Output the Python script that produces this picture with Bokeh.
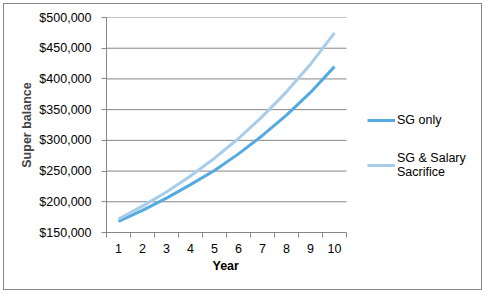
from bokeh.plotting import figure
from bokeh.models import FixedTicker, Legend, LegendItem, NumeralTickFormatter, Range1d, Title
from bokeh.embed import file_html
from bokeh.resources import INLINE

years = [1, 2, 3, 4, 5, 6, 7, 8, 9, 10]
sg_only = [168000, 186000, 206000, 228000, 251000, 278000, 308000, 341000, 378000, 420000]
sg_salary_sacrifice = [172000, 193000, 216000, 242000, 271000, 303000, 339000, 379000, 424000, 475000]
y_ticks = [150000, 200000, 250000, 300000, 350000, 400000, 450000, 500000]
x_boundaries = [0.5, 1.5, 2.5, 3.5, 4.5, 5.5, 6.5, 7.5, 8.5, 9.5, 10.5]

GREY = "#868686"
FONT = "Liberation Sans"
FS = "12.5px"

X_START, X_END = x_boundaries[0], x_boundaries[-1]
PX_PER_YEAR = 24
W, H = 479, 287
LEFT = 102
frame_w = W - LEFT
p = figure(width=W, height=H, output_backend="svg", toolbar_location=None,
           x_range=Range1d(X_START, X_START + frame_w / PX_PER_YEAR),
           y_range=Range1d(y_ticks[0], y_ticks[-1]),
           min_border_left=LEFT, min_border_right=0, min_border_top=13, min_border_bottom=59)
p.styles = {"border": f"1px solid {GREY}", "margin-left": "3px", "margin-top": "3px"}
p.outline_line_color = None
p.background_fill_color = "white"
p.border_fill_color = "white"

# horizontal gridlines limited to the plot area
p.xgrid.visible = False
p.ygrid.visible = False
p.segment(x0=X_START, x1=X_END, y0=y_ticks, y1=y_ticks, line_color=GREY, line_width=1)

r1 = p.line(years, sg_only, line_color="#55AAE0", line_width=3)
r2 = p.line(years, sg_salary_sacrifice, line_color="#A8CDEB", line_width=3)

xa = p.xaxis[0]
xa.bounds = (X_START, X_END)
xa.ticker = FixedTicker(ticks=years, minor_ticks=x_boundaries)
xa.major_tick_out = 0
xa.major_tick_in = 0
xa.minor_tick_out = 5
xa.minor_tick_in = 0
xa.minor_tick_line_color = GREY
xa.axis_line_color = GREY
xa.major_label_standoff = 6
xa.major_label_text_font = FONT
xa.major_label_text_font_size = FS
xa.major_label_text_color = "black"

ya = p.yaxis[0]
ya.ticker = FixedTicker(ticks=y_ticks)
ya.formatter = NumeralTickFormatter(format="$0,0")
ya.major_tick_out = 5
ya.major_tick_in = 0
ya.minor_tick_out = 0
ya.minor_tick_in = 0
ya.major_tick_line_color = GREY
ya.axis_line_color = GREY
ya.major_label_standoff = 10
ya.major_label_text_font = FONT
ya.major_label_text_font_size = FS
ya.major_label_text_color = "black"
ya.axis_label = "Super balance"
ya.axis_label_text_font = FONT
ya.axis_label_text_font_size = FS
ya.axis_label_text_font_style = "bold"
ya.axis_label_standoff = 2

# x-axis title centred under the plot area
p.add_layout(Title(text="Year", align="left", offset=106, standoff=3,
                   text_font=FONT, text_font_size=FS, text_font_style="bold",
                   text_color="black"), "below")

legend = Legend(items=[LegendItem(label="SG only", renderers=[r1]),
                       LegendItem(label="SG & Salary\nSacrifice", renderers=[r2])],
                location=(261, 53), border_line_color=None, background_fill_alpha=0,
                glyph_width=28, glyph_height=14, label_standoff=2, padding=0, margin=0,
                spacing=24, label_text_font=FONT, label_text_font_size=FS,
                label_text_color="black", label_text_line_height=1.1)
p.add_layout(legend, "center")

open("out.html", "w").write(file_html(p, INLINE))
